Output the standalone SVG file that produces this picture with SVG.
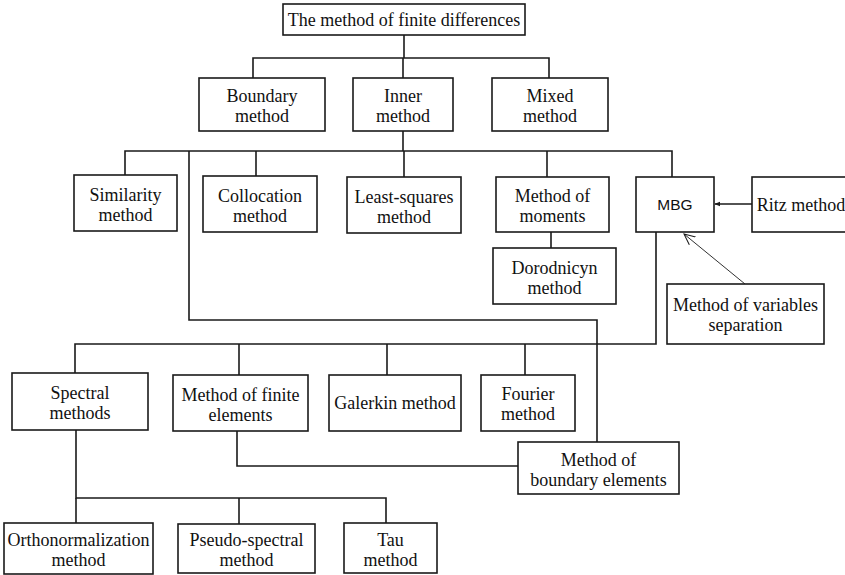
<svg xmlns="http://www.w3.org/2000/svg" width="845" height="575" viewBox="0 0 845 575">
<defs>
<style>
.box{fill:#fff;stroke:#1a1a1a;stroke-width:1.6}
.t{font-family:"Liberation Serif","Times New Roman",serif;font-size:18px;fill:#111;text-anchor:middle}
.s{font-family:"Liberation Sans",Arial,sans-serif;font-size:15.5px;fill:#111;text-anchor:middle}
.c{fill:none;stroke:#1a1a1a;stroke-width:1.6}
.thin{fill:none;stroke:#1a1a1a;stroke-width:0.9}
</style>
<marker id="ah" viewBox="0 0 10 10" refX="9" refY="5" markerWidth="6" markerHeight="6" orient="auto" markerUnits="userSpaceOnUse">
<path d="M0,1 L10,5 L0,9 z" fill="#1a1a1a"/>
</marker>
<marker id="oh" viewBox="0 0 12 12" refX="11" refY="6" markerWidth="12" markerHeight="12" orient="auto" markerUnits="userSpaceOnUse">
<path d="M0,1 L11,6 L0,11" fill="none" stroke="#1a1a1a" stroke-width="1"/>
</marker>
</defs>
<rect width="845" height="575" fill="#fff"/>
<g id="connectors">
<path class="c" d="M404,35 V58"/>
<path class="c" d="M253,78 V58 H549 V78"/>
<path class="c" d="M403,58 V78"/>
<path class="c" d="M403,131 V151"/>
<path class="c" d="M125,175 V151 H672 V177"/>
<path class="c" d="M256,151 V176"/>
<path class="c" d="M404,151 V177"/>
<path class="c" d="M547,151 V177"/>
<path class="c" d="M189,151 V320 H597 V442"/>
<path class="c" d="M551,232 V248"/>
<path class="c" d="M656,232 V344 H75 V373"/>
<path class="c" d="M239,344 V375"/>
<path class="c" d="M387,344 V375"/>
<path class="c" d="M525,344 V375"/>
<path class="c" d="M237,431 V466 H518"/>
<path class="c" d="M76,430 V498 H386 V523"/>
<path class="c" d="M76,498 V523"/>
<path class="c" d="M239,498 V524"/>
<path class="c" d="M752,204 H715" marker-end="url(#ah)"/>
<path class="thin" d="M745,284 L684,234" marker-end="url(#oh)"/>
</g>
<g id="n-top"><rect class="box" x="283" y="4" width="242" height="31"/><text class="t" x="404" y="26">The method of finite differences</text></g>
<g id="n-boundary"><rect class="box" x="199" y="78" width="126" height="53"/><text class="t" x="262" y="102">Boundary</text><text class="t" x="262" y="122">method</text></g>
<g id="n-inner"><rect class="box" x="353" y="78" width="100" height="53"/><text class="t" x="403" y="102">Inner</text><text class="t" x="403" y="122">method</text></g>
<g id="n-mixed"><rect class="box" x="492" y="78" width="116" height="53"/><text class="t" x="550" y="102">Mixed</text><text class="t" x="550" y="122">method</text></g>
<g id="n-similarity"><rect class="box" x="74" y="175" width="103" height="56"/><text class="t" x="125.5" y="201">Similarity</text><text class="t" x="125.5" y="221">method</text></g>
<g id="n-collocation"><rect class="box" x="203" y="176" width="114" height="56"/><text class="t" x="260" y="202">Collocation</text><text class="t" x="260" y="222">method</text></g>
<g id="n-leastsq"><rect class="box" x="347" y="177" width="114" height="56"/><text class="t" x="404" y="203">Least-squares</text><text class="t" x="404" y="223">method</text></g>
<g id="n-moments"><rect class="box" x="496" y="177" width="113" height="55"/><text class="t" x="552.5" y="202">Method of</text><text class="t" x="552.5" y="222">moments</text></g>
<g id="n-mbg"><rect class="box" x="636" y="177" width="78" height="55"/><text class="s" x="675" y="210">MBG</text></g>
<g id="n-ritz"><rect class="box" x="752" y="177" width="100" height="55"/><text class="t" x="801" y="211">Ritz method</text></g>
<g id="n-dorodnicyn"><rect class="box" x="493" y="248" width="123" height="56"/><text class="t" x="554.5" y="274">Dorodnicyn</text><text class="t" x="554.5" y="294">method</text></g>
<g id="n-varsep"><rect class="box" x="667" y="284" width="157" height="60"/><text class="t" x="745.5" y="311">Method of variables</text><text class="t" x="745.5" y="331">separation</text></g>
<g id="n-spectral"><rect class="box" x="12" y="373" width="136" height="57"/><text class="t" x="80" y="399">Spectral</text><text class="t" x="80" y="419">methods</text></g>
<g id="n-fem"><rect class="box" x="173" y="375" width="135" height="56"/><text class="t" x="240.5" y="401">Method of finite</text><text class="t" x="240.5" y="421">elements</text></g>
<g id="n-galerkin"><rect class="box" x="329" y="375" width="132" height="56"/><text class="t" x="395" y="409">Galerkin method</text></g>
<g id="n-fourier"><rect class="box" x="481" y="375" width="94" height="56"/><text class="t" x="528" y="400">Fourier</text><text class="t" x="528" y="420">method</text></g>
<g id="n-bem"><rect class="box" x="518" y="442" width="161" height="52"/><text class="t" x="598.5" y="466">Method of</text><text class="t" x="598.5" y="486">boundary elements</text></g>
<g id="n-ortho"><rect class="box" x="4" y="523" width="149" height="51"/><text class="t" x="78.5" y="546">Orthonormalization</text><text class="t" x="78.5" y="566">method</text></g>
<g id="n-pseudo"><rect class="box" x="178" y="524" width="137" height="49"/><text class="t" x="246.5" y="546">Pseudo-spectral</text><text class="t" x="246.5" y="566">method</text></g>
<g id="n-tau"><rect class="box" x="344" y="523" width="93" height="50"/><text class="t" x="390.5" y="546">Tau</text><text class="t" x="390.5" y="566">method</text></g>
</svg>
